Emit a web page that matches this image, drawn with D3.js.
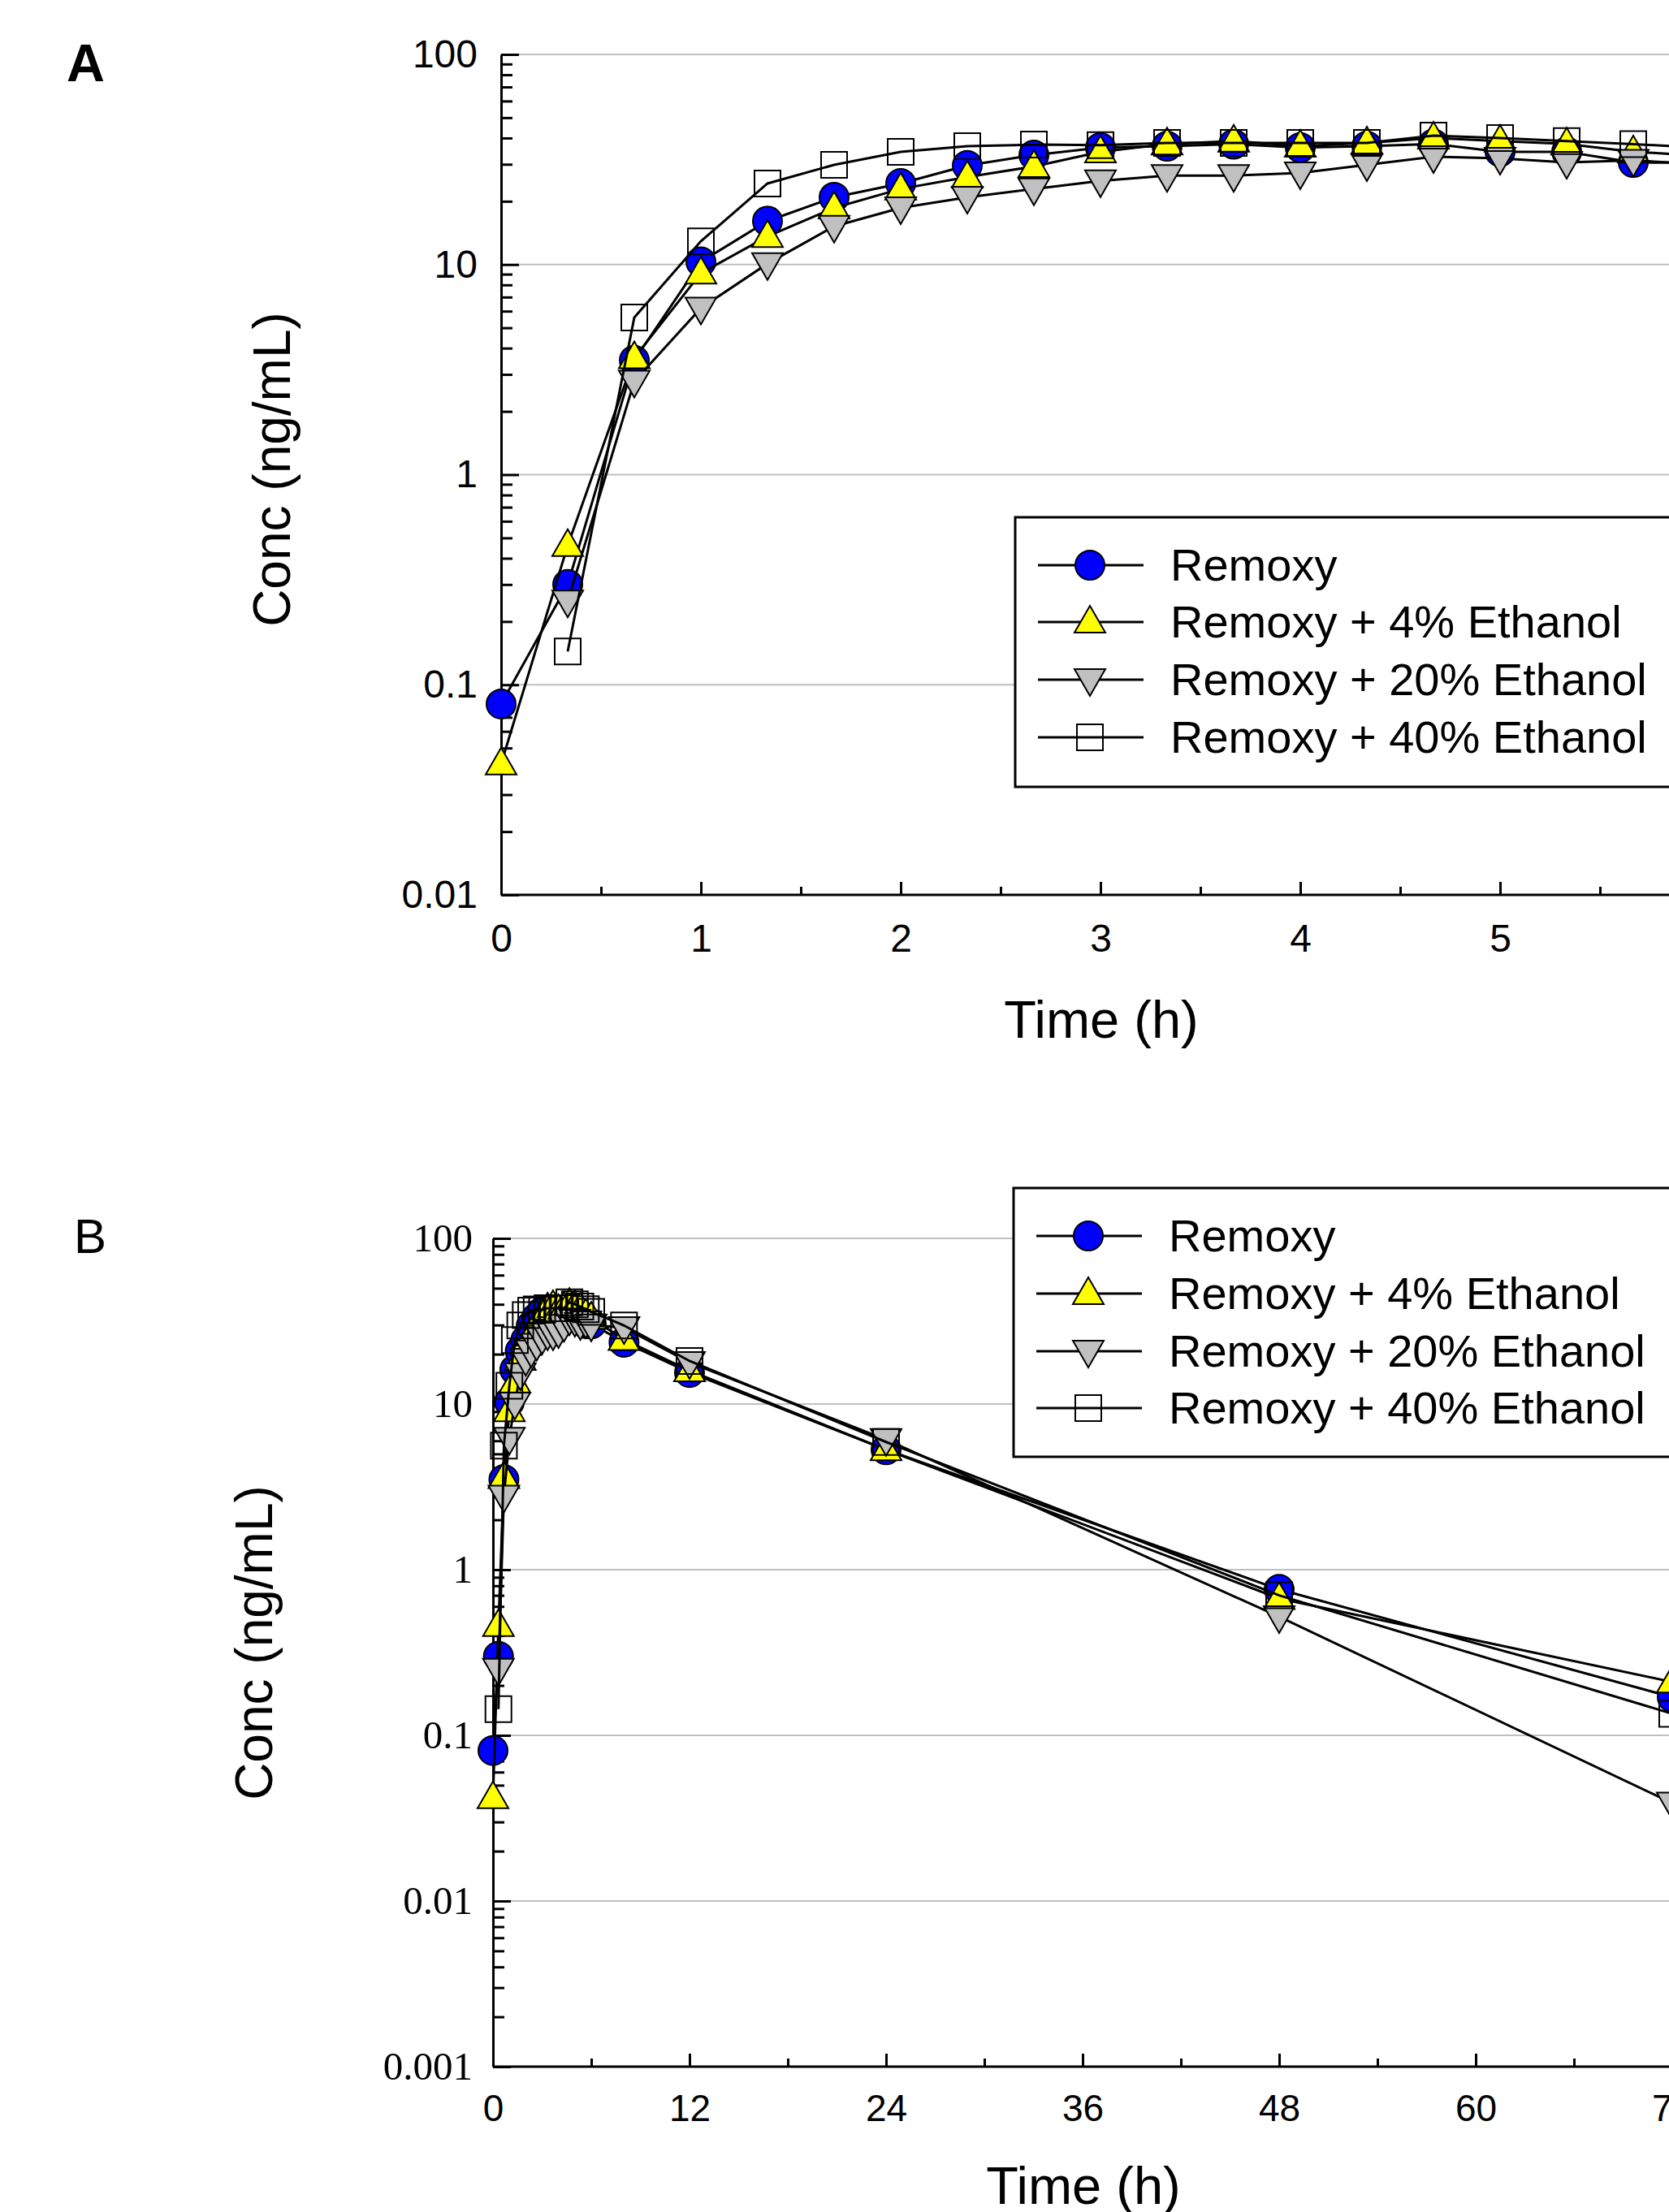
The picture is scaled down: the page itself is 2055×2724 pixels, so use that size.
<!DOCTYPE html>
<html>
<head>
<meta charset="utf-8">
<script src="https://cdn.jsdelivr.net/npm/d3@7"></script>
<style>
  html, body { margin: 0; padding: 0; background: #fff; overflow: hidden; }
  svg { display: block; }
</style>
</head>
<body>
<div id="chart"></div>
<script>
// sampling times (h); early ones are shared by both panels
const timesEarly = [0, 1/3, 2/3, 1, 4/3, 5/3, 2, 7/3, 8/3, 3, 10/3, 11/3, 4, 13/3, 14/3, 5, 16/3, 17/3, 6];
const timesLate = [8, 12, 24, 48, 72];

// mean concentrations (ng/mL), null = not plotted
const remoxy   = [0.081, 0.30, 3.5, 10.3, 16.1, 20.9, 24.3, 29.6, 33.2, 36.0, 36.6, 37.4, 36.0, 36.6, 37.5, 34.4, 34.4, 30.6, 30.5,
                  23.6, 15.5, 5.3, 0.76, 0.17];
const ethanol4  = [0.042, 0.46, 3.6, 9.1, 13.6, 18.6, 22.9, 26.1, 29.3, 34.4, 37.5, 38.7, 36.6, 37.9, 40.0, 38.7, 37.5, 34.4, 33.0,
                  24.5, 15.9, 5.3, 0.67, 0.21];
const ethanol20 = [null, 0.25, 2.78, 6.2, 10.1, 15.2, 18.6, 20.9, 22.9, 25.0, 26.5, 26.5, 27.3, 29.8, 32.6, 32.0, 30.6, 31.3, 30.0,
                  28.9, 17.8, 6.1, 0.52, 0.039];
const ethanol40 = [null, 0.144, 5.6, 12.9, 24.3, 29.8, 34.4, 36.6, 37.2, 37.0, 37.9, 37.9, 37.9, 37.9, 41.1, 40.0, 38.7, 37.4, 36.0,
                  29.8, 18.2, 5.9, 0.70, 0.135];

const seriesNames = ['Remoxy', 'Remoxy + 4% Ethanol', 'Remoxy + 20% Ethanol', 'Remoxy + 40% Ethanol'];
const seriesShapes = ['circle', 'up', 'down', 'square'];
const seriesFills = ['#0000ff', '#ffff00', '#c0c0c0', 'none'];
const seriesValues = [remoxy, ethanol4, ethanol20, ethanol40];

// tick labels (panel A's 6 falls outside the picture)
const xTicksA = [0, 1, 2, 3, 4, 5];
const xMinorA = [0.5, 1.5, 2.5, 3.5, 4.5, 5.5];
const xTicksB = [0, 12, 24, 36, 48, 60, 72];
const xMinorB = [6, 18, 30, 42, 54, 66];

const W = 2055, H = 2724;
const svg = d3.select('#chart').append('svg')
  .attr('width', W).attr('height', H)
  .style('background', '#fff');

const allTimes = timesEarly.concat(timesLate);

// marker path builder
function markerPath(shape) {
  if (shape === 'circle') return 'M18,0A18,18 0 1,1 -18,0A18,18 0 1,1 18,0Z';
  if (shape === 'square') return 'M-16,-16H16V16H-16Z';
  if (shape === 'up') return 'M0,-20L19,13H-19Z';
  return 'M0,20L19,-13H-19Z';
}

function drawPanel(opt) {
  const g = svg.append('g');
  const x = d3.scaleLinear().domain(opt.xDomain).range(opt.xRange);
  const y = d3.scaleLog().domain(opt.yDomain).range(opt.yRange);

  const decades = d3.range(Math.log10(opt.yDomain[0]), Math.log10(opt.yDomain[1]) + 1).map(e => Math.pow(10, e));
  const minorY = [];
  decades.slice(0, -1).forEach(d => { for (let k = 2; k < 10; k++) minorY.push(d * k); });

  // grid
  g.append('g').selectAll('line')
    .data(decades.slice(1))
    .join('line')
      .attr('x1', opt.xRange[0]).attr('x2', W + 50)
      .attr('y1', d => y(d)).attr('y2', d => y(d))
      .attr('stroke', '#c0c0c0').attr('stroke-width', 2);

  // y axis
  const yAxis = g.append('g')
    .attr('transform', `translate(${opt.xRange[0]},0)`)
    .call(d3.axisLeft(y).tickValues(decades).tickSize(-22).tickSizeOuter(0)
      .tickPadding(opt.yPad).tickFormat(d => opt.yFormat(d)));
  yAxis.select('.domain').attr('stroke-width', 3);
  yAxis.selectAll('.tick line').attr('stroke-width', 3);
  yAxis.selectAll('text')
    .attr('font-family', opt.yFont).attr('font-size', opt.yFontSize).attr('fill', '#000');

  g.append('g')
    .attr('transform', `translate(${opt.xRange[0]},0)`)
    .call(d3.axisLeft(y).tickValues(minorY).tickSize(-14).tickSizeOuter(0).tickFormat(''))
    .call(a => a.select('.domain').remove())
    .selectAll('.tick line').attr('stroke-width', 3);

  // x axis
  const xAxis = g.append('g')
    .attr('transform', `translate(0,${opt.yRange[0]})`)
    .call(d3.axisBottom(x).tickValues(opt.xTicks).tickSize(-16).tickSizeOuter(0)
      .tickPadding(opt.xPad).tickFormat(d3.format('d')));
  xAxis.select('.domain').attr('stroke-width', 3).attr('d', `M${opt.xRange[0]},0H${W + 50}`);
  xAxis.selectAll('.tick line').attr('stroke-width', 3);
  xAxis.selectAll('text')
    .attr('font-family', 'Liberation Sans, Arial, sans-serif').attr('font-size', opt.xFontSize).attr('fill', '#000');

  g.append('g')
    .attr('transform', `translate(0,${opt.yRange[0]})`)
    .call(d3.axisBottom(x).tickValues(opt.xMinor).tickSize(-10).tickSizeOuter(0).tickFormat(''))
    .call(a => a.select('.domain').remove())
    .selectAll('.tick line').attr('stroke-width', 3);

  // series: line then symbols, in legend order
  const line = d3.line()
    .defined(d => d.v != null)
    .x(d => x(d.t)).y(d => y(d.v));

  seriesValues.forEach((vals, i) => {
    const pts = allTimes.map((t, j) => ({ t: t, v: vals[j] }))
      .filter(d => d.t <= opt.tMax);
    g.append('path')
      .datum(pts)
      .attr('d', line)
      .attr('fill', 'none').attr('stroke', '#000').attr('stroke-width', 3);
    g.append('g').selectAll('path')
      .data(pts.filter(d => d.v != null))
      .join('path')
        .attr('d', markerPath(seriesShapes[i]))
        .attr('transform', d => `translate(${x(d.t)},${y(d.v)})`)
        .attr('fill', seriesFills[i])
        .attr('stroke', '#000').attr('stroke-width', 2);
  });

  // legend
  const lg = g.append('g');
  lg.append('rect')
    .attr('x', opt.legend.x).attr('y', opt.legend.y)
    .attr('width', 900).attr('height', opt.legend.h)
    .attr('fill', '#fff').attr('stroke', '#000').attr('stroke-width', 3);
  seriesNames.forEach((name, i) => {
    const cy = opt.legend.rows[i];
    lg.append('line')
      .attr('x1', opt.legend.x + 28).attr('x2', opt.legend.x + 158)
      .attr('y1', cy).attr('y2', cy)
      .attr('stroke', '#000').attr('stroke-width', 3);
    lg.append('path')
      .attr('d', markerPath(seriesShapes[i]))
      .attr('transform', `translate(${opt.legend.x + 92},${cy})`)
      .attr('fill', seriesFills[i]).attr('stroke', '#000').attr('stroke-width', 2);
    lg.append('text')
      .attr('x', opt.legend.x + 191).attr('y', cy + 19)
      .attr('font-family', 'Liberation Sans, Arial, sans-serif').attr('font-size', 56)
      .text(name);
  });

  // axis titles
  g.append('text')
    .attr('transform', `translate(${opt.yTitle[0]},${opt.yTitle[1]}) rotate(-90)`)
    .attr('text-anchor', 'middle')
    .attr('font-family', 'Liberation Sans, Arial, sans-serif').attr('font-size', 64)
    .text('Conc (ng/mL)');
  g.append('text')
    .attr('x', opt.xTitle[0]).attr('y', opt.xTitle[1])
    .attr('text-anchor', 'middle')
    .attr('font-family', 'Liberation Sans, Arial, sans-serif').attr('font-size', 65)
    .text('Time (h)');

  // panel letter
  g.append('text')
    .attr('x', opt.letter.x).attr('y', opt.letter.y)
    .attr('font-family', 'Liberation Sans, Arial, sans-serif')
    .attr('font-size', opt.letter.size).attr('font-weight', opt.letter.weight)
    .text(opt.letter.text);
}

drawPanel({
  xDomain: [0, 6], xRange: [617, 2093], tMax: 6.01,
  yDomain: [0.01, 100], yRange: [1102, 67],
  xTicks: xTicksA, xMinor: xMinorA, xPad: 36, xFontSize: 48,
  yPad: 29, yFont: 'Liberation Sans, Arial, sans-serif', yFontSize: 48,
  yFormat: d => d3.format('~g')(d),
  legend: { x: 1250, y: 637, h: 332, rows: [696, 766, 837, 908] },
  yTitle: [357, 578], xTitle: [1356, 1278],
  letter: { text: 'A', x: 82, y: 100, size: 65, weight: 'bold' }
});

drawPanel({
  xDomain: [0, 72], xRange: [607, 2059], tMax: 100,
  yDomain: [0.001, 100], yRange: [2545, 1525],
  xTicks: xTicksB, xMinor: xMinorB, xPad: 34, xFontSize: 46,
  yPad: 25, yFont: 'Liberation Serif, Times New Roman, serif', yFontSize: 49,
  yFormat: d => d3.format('~g')(d),
  legend: { x: 1248, y: 1463, h: 331, rows: [1522, 1593, 1664, 1734] },
  yTitle: [335, 2023], xTitle: [1334, 2714],
  letter: { text: 'B', x: 91, y: 1543, size: 60, weight: 'normal' }
});
</script>
</body>
</html>
